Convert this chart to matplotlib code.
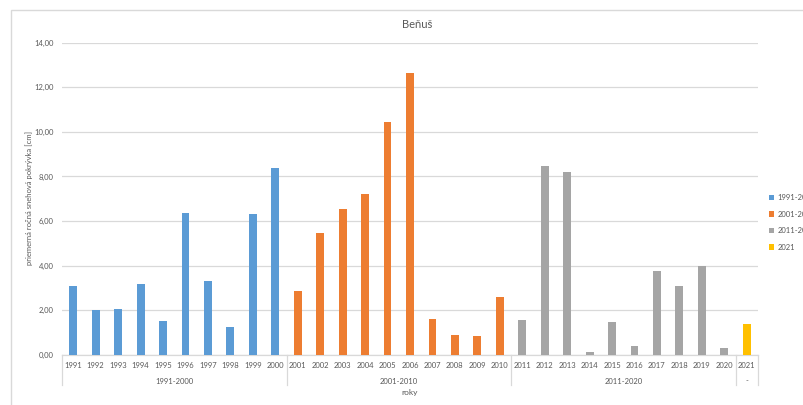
import matplotlib
matplotlib.use("Agg")
import matplotlib.pyplot as plt
from matplotlib.patches import Rectangle, Patch
from matplotlib.ticker import FuncFormatter

plt.rcParams['font.family'] = ['Lato', 'DejaVu Sans']

# Average annual snow cover depth per year, grouped by decade
years = [str(y) for y in range(1991, 2022)]
groups = ["1991-2000", "2001-2010", "2011-2020", "2021"]
group_axis_labels = ["1991-2000", "2001-2010", "2011-2020", "-"]
group_sizes = [10, 10, 10, 1]
values = [
    3.10, 1.99, 2.06, 3.17, 1.50, 6.37, 3.31, 1.24, 6.33, 8.37,
    2.87, 5.46, 6.53, 7.20, 10.43, 12.66, 1.59, 0.87, 0.85, 2.58,
    1.54, 8.47, 8.20, 0.11, 1.48, 0.38, 3.76, 3.07, 3.99, 0.31,
    1.39,
]
colors = ["#5B9BD5", "#ED7D31", "#A5A5A5", "#FFC000"]

title = "Beňuš"
ylabel = "priemerná ročná snehová pokrývka [cm]"
xlabel = "roky"

W, H = 804, 405
fig = plt.figure(figsize=(W / 100, H / 100), dpi=100)
fig.patch.set_facecolor("white")

# chart area border (continues past the right and bottom edges)
fig.add_artist(Rectangle((11 / W, -0.1), 1.2, 1 - 10 / H + 0.1,
                         transform=fig.transFigure, fill=False,
                         edgecolor="#d9d9d9", linewidth=1.0))

x0, x1 = 62, 758
ytop, ybot = 42.8, 354.7
ax = fig.add_axes([x0 / W, 1 - ybot / H, (x1 - x0) / W, (ybot - ytop) / H])
ax.set_facecolor("none")

bar_colors = []
for gi, n in enumerate(group_sizes):
    bar_colors += [colors[gi]] * n
pos = list(range(len(years)))
ax.bar(pos, values, width=0.35, color=bar_colors, zorder=3)

ax.set_xlim(-0.5, len(years) - 0.5)
ax.set_ylim(0, 14)
ax.set_yticks(range(0, 15, 2))
ax.yaxis.set_major_formatter(FuncFormatter(lambda v, p: f"{v:.2f}".replace(".", ",")))
ax.grid(axis="y", color="#d9d9d9", linewidth=0.9, zorder=0)
for s in ["top", "right", "left"]:
    ax.spines[s].set_visible(False)
ax.spines["bottom"].set_color("#d9d9d9")
ax.spines["bottom"].set_linewidth(0.9)

ax.set_xticks(pos)
ax.set_xticklabels(years)
ax.tick_params(axis="x", length=0, pad=5, labelsize=5.5, labelcolor="#595959")
ax.tick_params(axis="y", length=0, pad=6, labelsize=5.5, labelcolor="#595959")

# group labels and separators of the two-level category axis
tr = ax.get_xaxis_transform()
sep_bottom = -(385 - ybot) / (ybot - ytop)
grp_y = -(381 - ybot) / (ybot - ytop)
start = 0
bounds = [-0.5]
for lab, n in zip(group_axis_labels, group_sizes):
    center = start + (n - 1) / 2
    ax.text(center, grp_y, lab, transform=tr, ha="center", va="center",
            fontsize=5.5, color="#595959")
    start += n
    bounds.append(start - 0.5)
for b in bounds:
    ax.plot([b, b], [0, sep_bottom], transform=tr, color="#d9d9d9",
            linewidth=0.9, clip_on=False)

ax.text(0.5, -(393 - ybot) / (ybot - ytop), xlabel, transform=ax.transAxes,
        ha="center", va="center", fontsize=6, color="#595959")
fig.text(29 / W, 1 - 198 / H, ylabel, rotation=90, ha="center", va="center",
         fontsize=5.5, color="#595959")
fig.text(417 / W, 1 - 25 / H, title, ha="center", va="center",
         fontsize=8, color="#595959")

handles = [Patch(facecolor=c, edgecolor="none", label=g) for c, g in zip(colors, groups)]
fig.legend(handles=handles, loc="upper left",
           bbox_to_anchor=(769 / W, 1 - 194 / H),
           frameon=False, fontsize=5.5, labelcolor="#595959",
           handlelength=0.7, handleheight=0.7, handletextpad=0.4,
           labelspacing=1.25, borderaxespad=0, borderpad=0)

fig.savefig("out.png", dpi=100)
